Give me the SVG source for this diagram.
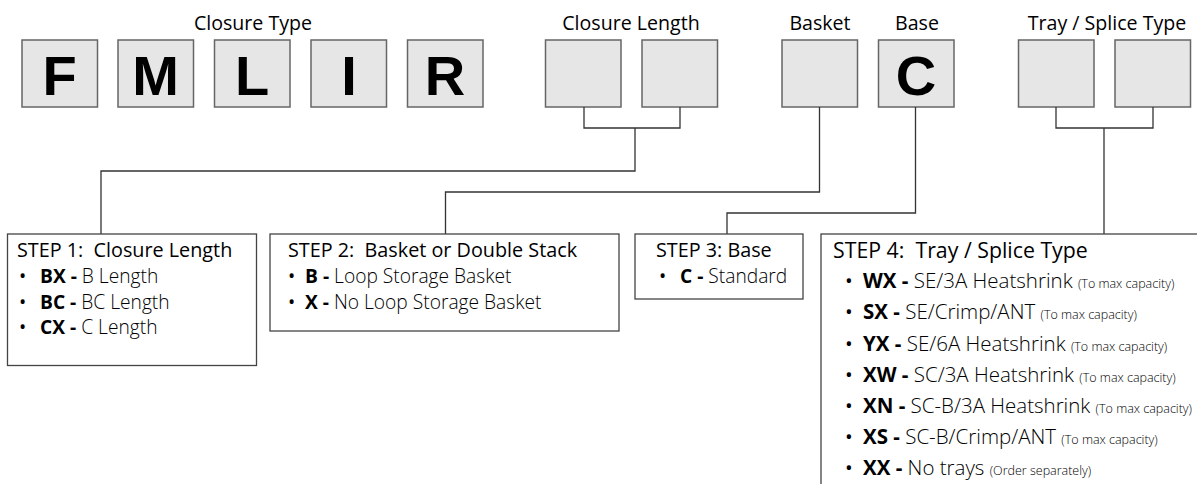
<svg xmlns="http://www.w3.org/2000/svg" width="1197" height="484" viewBox="0 0 1197 484">
<style>
.box{fill:#e6e6e6;stroke:#666;stroke-width:1.5}
.big{font-family:"Liberation Sans",Arial,sans-serif;font-weight:bold;font-size:56px;fill:#000;text-anchor:middle}
.hdr{font-family:"Open Sans","Noto Sans",sans-serif;font-size:19.6px;fill:#000;text-anchor:middle}
.step{fill:#fff;stroke:#444;stroke-width:1.3}
.t{font-family:"Open Sans","Noto Sans",sans-serif;font-size:19.8px;font-weight:500;fill:#000;white-space:pre}
.t4{font-size:21.3px}
.i{font-family:"Open Sans","Noto Sans",sans-serif;font-size:19.2px;font-weight:300;fill:#000}
.i4{font-size:20.5px}
.b{font-weight:700;fill:#000}
.d{font-weight:400}
.s{font-size:12.5px}
.con{fill:none;stroke:#333;stroke-width:1.3}
</style>
<g id="headers">
<text class="hdr" x="253" y="30">Closure Type</text>
<text class="hdr" x="631" y="30">Closure Length</text>
<text class="hdr" x="820" y="30">Basket</text>
<text class="hdr" x="917" y="30">Base</text>
<text class="hdr" x="1107" y="30">Tray / Splice Type</text>
</g>
<g id="box-F"><rect class="box" x="22" y="40" width="75.5" height="67"/><text class="big" x="59.5" y="95">F</text></g>
<g id="box-M"><rect class="box" x="118" y="40" width="75.5" height="67"/><text class="big" x="155.5" y="95">M</text></g>
<g id="box-L"><rect class="box" x="214.5" y="40" width="75.5" height="67"/><text class="big" x="252" y="95">L</text></g>
<g id="box-I"><rect class="box" x="311" y="40" width="75.5" height="67"/><text class="big" x="349" y="95">I</text></g>
<g id="box-R"><rect class="box" x="407.5" y="40" width="75.5" height="67"/><text class="big" x="445" y="95">R</text></g>
<g id="box-len1"><rect class="box" x="545.5" y="40" width="75.5" height="67"/></g>
<g id="box-len2"><rect class="box" x="642" y="40" width="75.5" height="67"/></g>
<g id="box-basket"><rect class="box" x="782" y="40" width="75.5" height="67"/></g>
<g id="box-base"><rect class="box" x="878.5" y="40" width="75.5" height="67"/><text class="big" x="916" y="95">C</text></g>
<g id="box-tray1"><rect class="box" x="1018.5" y="40" width="75.5" height="67"/></g>
<g id="box-tray2"><rect class="box" x="1115" y="40" width="75.5" height="67"/></g>
<g id="connectors">
<path class="con" d="M584 107V128H680V107M635 128V171H101V234"/>
<path class="con" d="M819.5 107V192H445.5V234"/>
<path class="con" d="M915.5 107V213H727V234"/>
<path class="con" d="M1056 107V128H1153V107M1104 128V234"/>
</g>
<g id="step1">
<rect class="step" x="7.5" y="234" width="249" height="131.5"/>
<text class="t" x="17" y="257" xml:space="preserve">STEP 1:  Closure Length</text>
<text class="i" x="19" y="283"><tspan class="d">•</tspan><tspan class="b" x="40">BX -</tspan> B Length</text>
<text class="i" x="19" y="309"><tspan class="d">•</tspan><tspan class="b" x="40">BC -</tspan> BC Length</text>
<text class="i" x="19" y="334"><tspan class="d">•</tspan><tspan class="b" x="40">CX -</tspan> C Length</text>
</g>
<g id="step2">
<rect class="step" x="270" y="234" width="349" height="97"/>
<text class="t" x="288" y="257" xml:space="preserve">STEP 2:  Basket or Double Stack</text>
<text class="i" x="288" y="283"><tspan class="d">•</tspan><tspan class="b" x="305">B -</tspan> Loop Storage Basket</text>
<text class="i" x="288" y="309"><tspan class="d">•</tspan><tspan class="b" x="305">X -</tspan> No Loop Storage Basket</text>
</g>
<g id="step3">
<rect class="step" x="635" y="234" width="168" height="65"/>
<text class="t" x="656" y="257">STEP 3: Base</text>
<text class="i" x="659" y="283"><tspan class="d">•</tspan><tspan class="b" x="680">C -</tspan> Standard</text>
</g>
<g id="step4">
<rect class="step" x="821" y="234" width="400" height="280"/>
<text class="t t4" x="833" y="258" xml:space="preserve">STEP 4:  Tray / Splice Type</text>
<text class="i i4" x="845" y="288"><tspan class="d">•</tspan><tspan class="b" x="863">WX -</tspan> SE/3A Heatshrink <tspan class="s">(To max capacity)</tspan></text>
<text class="i i4" x="845" y="319"><tspan class="d">•</tspan><tspan class="b" x="863">SX -</tspan> SE/Crimp/ANT <tspan class="s">(To max capacity)</tspan></text>
<text class="i i4" x="845" y="351"><tspan class="d">•</tspan><tspan class="b" x="863">YX -</tspan> SE/6A Heatshrink <tspan class="s">(To max capacity)</tspan></text>
<text class="i i4" x="845" y="382"><tspan class="d">•</tspan><tspan class="b" x="863">XW -</tspan> SC/3A Heatshrink <tspan class="s">(To max capacity)</tspan></text>
<text class="i i4" x="845" y="413"><tspan class="d">•</tspan><tspan class="b" x="863">XN -</tspan> SC-B/3A Heatshrink <tspan class="s">(To max capacity)</tspan></text>
<text class="i i4" x="845" y="444"><tspan class="d">•</tspan><tspan class="b" x="863">XS -</tspan> SC-B/Crimp/ANT <tspan class="s">(To max capacity)</tspan></text>
<text class="i i4" x="845" y="475"><tspan class="d">•</tspan><tspan class="b" x="863">XX -</tspan> No trays <tspan class="s">(Order separately)</tspan></text>
</g>
</svg>
